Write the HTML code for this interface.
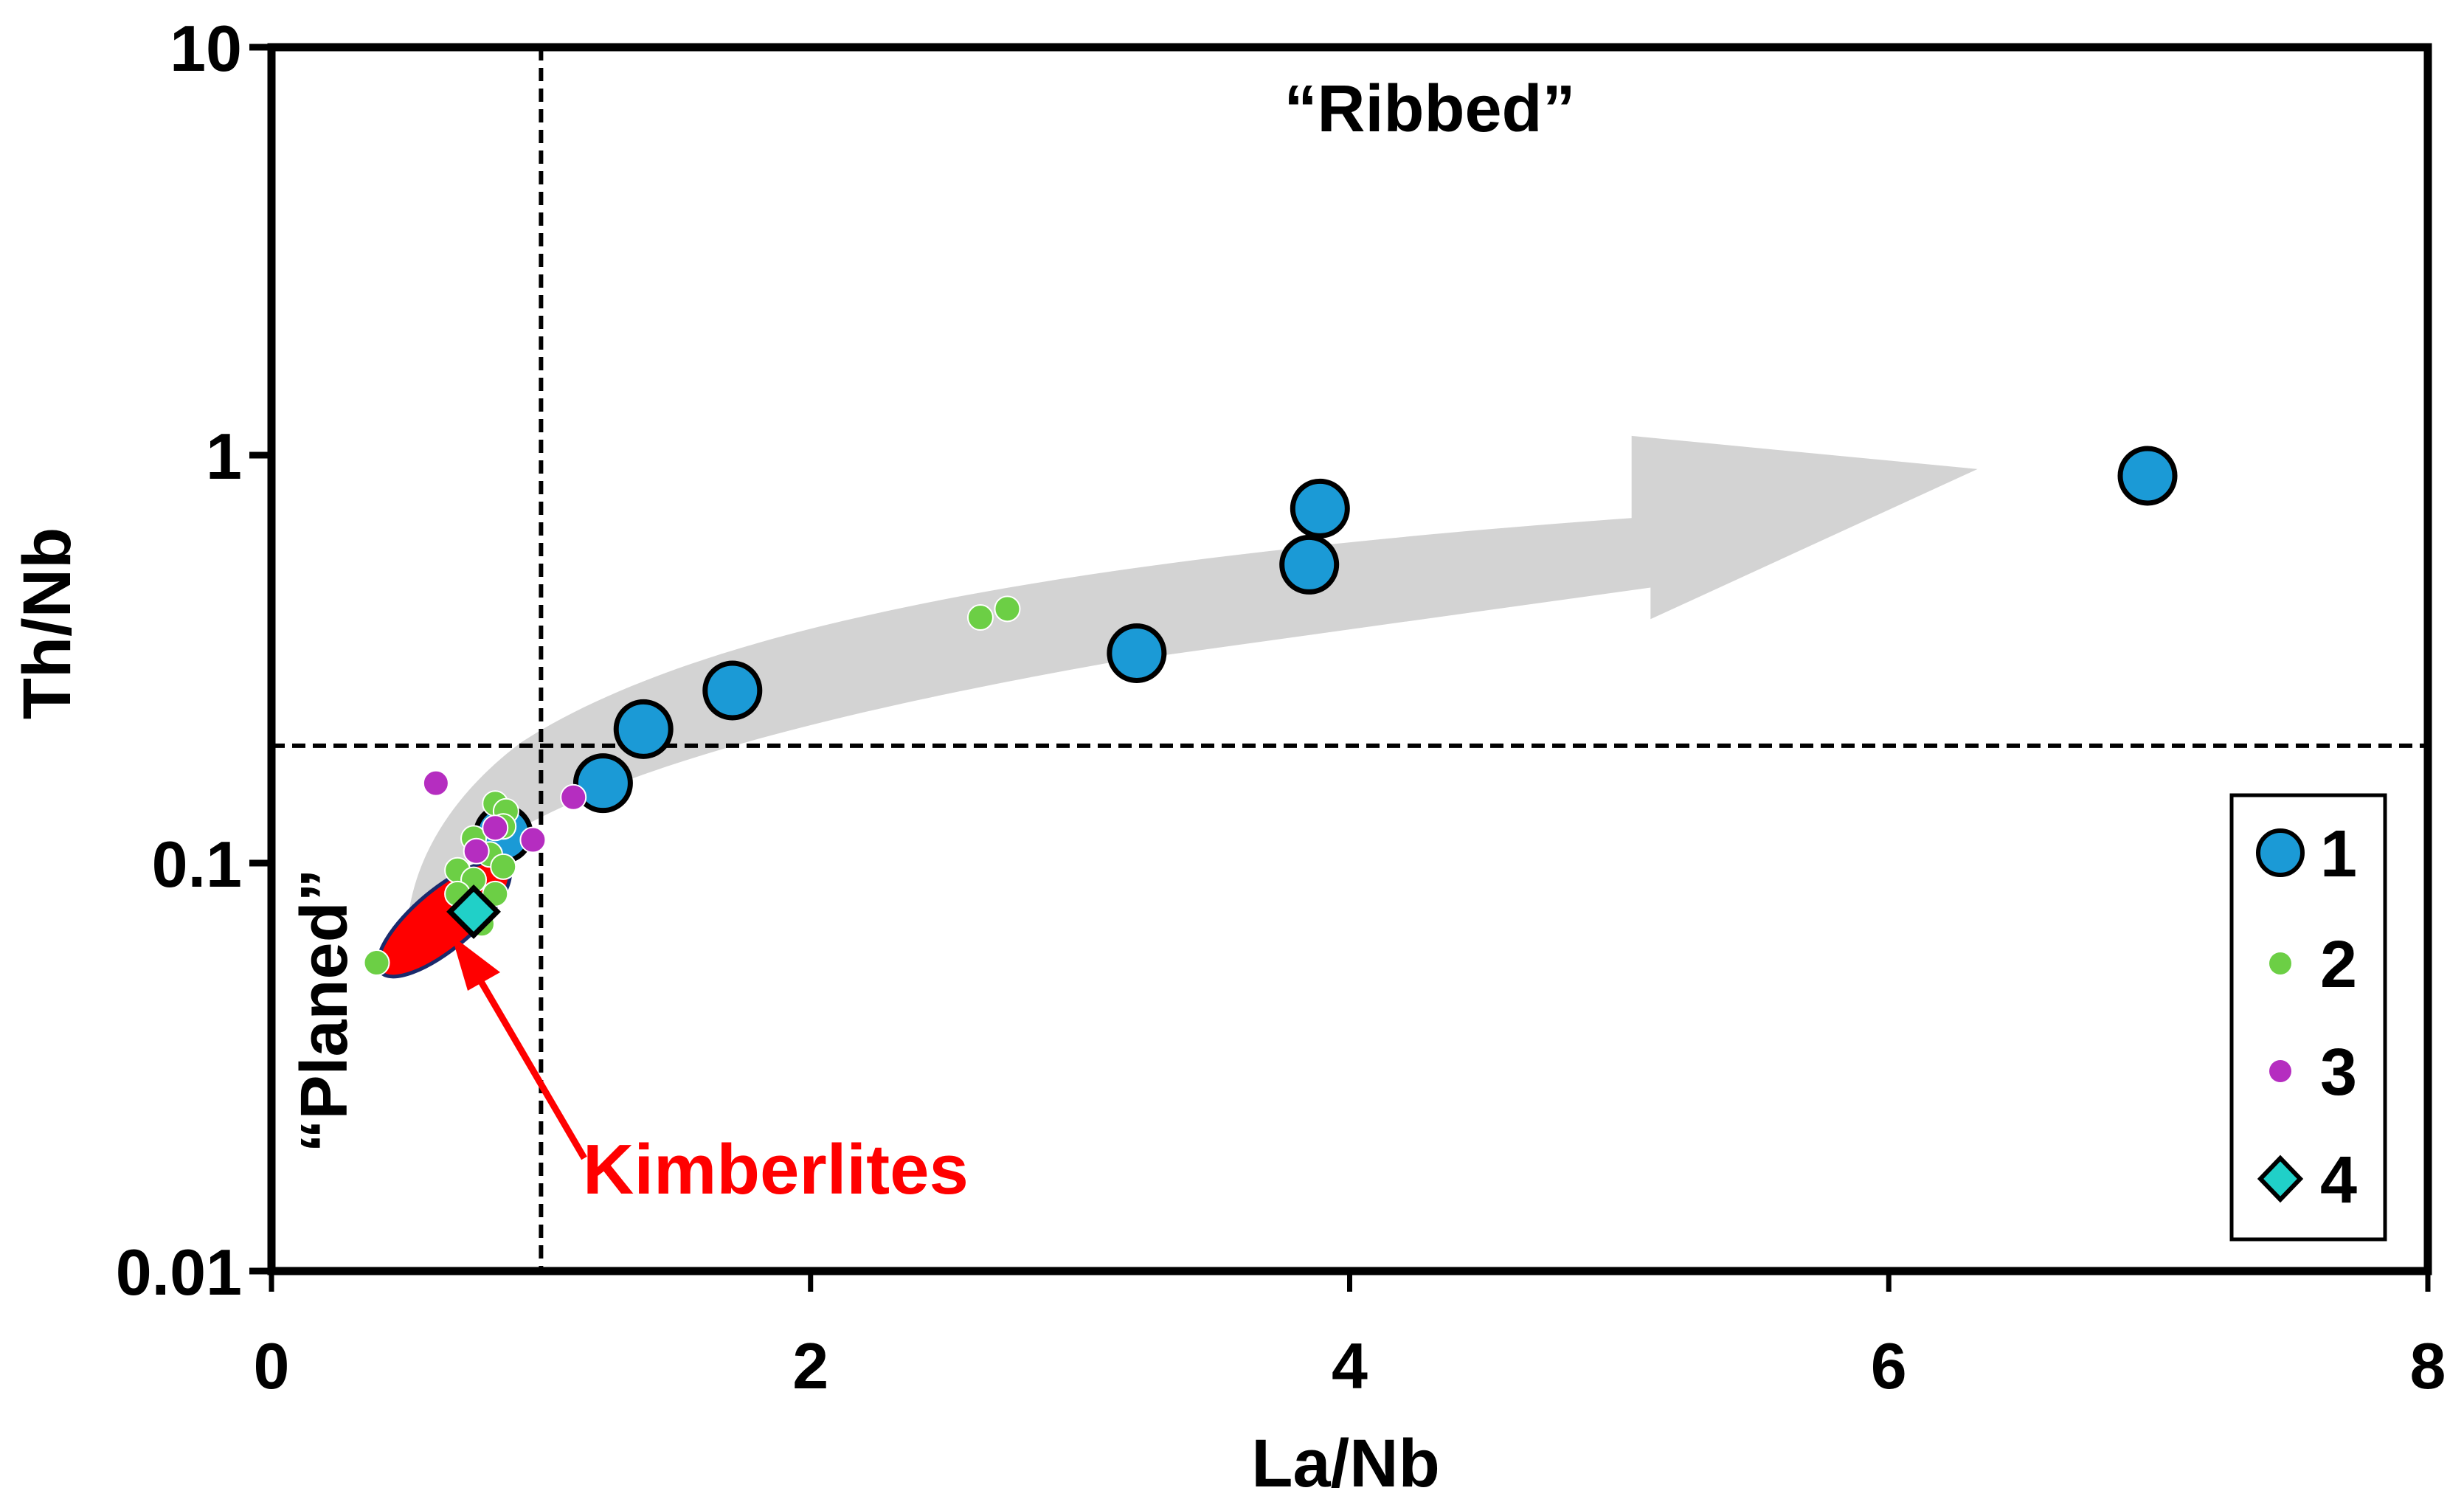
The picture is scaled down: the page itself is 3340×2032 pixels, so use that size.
<!DOCTYPE html>
<html><head><meta charset="utf-8"><style>
html,body{margin:0;padding:0;background:#fff;}
svg{display:block;font-family:"Liberation Sans",Arial,sans-serif;font-weight:bold;}
</style></head><body>
<svg id="chart" width="3340" height="2032" viewBox="0 0 3340 2032" xmlns="http://www.w3.org/2000/svg">
<g id="under">
  <g transform="scale(2.141)">
    <path fill="#d3d3d3" d="M258,585 C300,520 420,470 700,420 L1045,372 L1045,392 L1252,297 L1033,276 L1033,328 C700,352 450,392 330,470 C290,500 262,540 258,585 Z"/>
  </g>
</g>
<g id="marks"></g>
<g id="axes"></g>
</svg>
<script>
const xTicks=[0,2,4,6,8];
const xTickLabels=["0","2","4","6","8"];
const yTicks=[0.01,0.1,1,10];
const yTickLabels=["0.01","0.1","1","10"];
const s1x=[0.86,1.23,1.38,1.71,3.21,3.85,3.89,6.96];
const s1y=[0.118,0.157,0.213,0.265,0.327,0.539,0.74,0.89];
const s2x=[0.39,2.63,2.73,0.83,0.87,0.86,0.75,0.81,0.69,0.86,0.75,0.69,0.83,0.75,0.78];
const s2y=[0.057,0.40,0.42,0.140,0.134,0.123,0.115,0.105,0.096,0.098,0.091,0.084,0.084,0.077,0.071];
const s3x=[0.61,1.12,0.83,0.97,0.76];
const s3y=[0.157,0.145,0.122,0.114,0.107];
const s4x=[0.75];
const s4y=[0.076];
const vLineX=1, hLineY=0.194;

const L=368,R=3291,T=64,B=1723;
const X=v=>L+(v-0)/(8-0)*(R-L);
const Y=v=>B-(Math.log10(v)-(-2))/3*(B-T);
const NS="http://www.w3.org/2000/svg";
function mk(tag,attrs,parent,text){const e=document.createElementNS(NS,tag);for(const k in attrs)e.setAttribute(k,attrs[k]);if(text!==undefined)e.textContent=text;parent.appendChild(e);return e;}
const marks=document.getElementById('marks'),axes=document.getElementById('axes'),under=document.getElementById('under');

let el=mk('ellipse',{cx:X(0.64),cy:Y(0.073),rx:112,ry:40,transform:`rotate(-40 ${X(0.64)} ${Y(0.073)})`,fill:'#ff0000',stroke:'#1a2a6c','stroke-width':5},under);



let d1=mk('line',{x1:X(vLineX),x2:X(vLineX),y1:T,y2:B,stroke:'#000','stroke-width':6,'stroke-dasharray':'18,10'},under);


let d2=mk('line',{x1:L,x2:R,y1:Y(hLineY),y2:Y(hLineY),stroke:'#000','stroke-width':6,'stroke-dasharray':'18,10'},under);



for(let i=0;i<s1x.length;i++){
  const c=mk('circle',{cx:X(s1x[i]),cy:Y(s1y[i]),r:37,fill:'#1b9ad6',stroke:'#000','stroke-width':7},marks);
  
  
}
for(let i=0;i<s2x.length;i++){
  const c=mk('circle',{cx:X(s2x[i]),cy:Y(s2y[i]),r:17,fill:'#6ccf45',stroke:'#fff','stroke-width':2},marks);
  
  
}
for(let i=0;i<s3x.length;i++){
  const c=mk('circle',{cx:X(s3x[i]),cy:Y(s3y[i]),r:17,fill:'#b52dc0',stroke:'#fff','stroke-width':2},marks);
  
  
}
for(let i=0;i<s4x.length;i++){
  const cx=X(s4x[i]),cy=Y(s4y[i]);
  const c=mk('polygon',{points:`${cx},${cy-32} ${cx+32},${cy} ${cx},${cy+32} ${cx-32},${cy}`,fill:'#20d0c8',stroke:'#000','stroke-width':7},marks);
  
  
}

let ra=mk('line',{x1:792,y1:1570,x2:640,y2:1310,stroke:'#ff0000','stroke-width':9},marks);


let rh=mk('polygon',{points:'612,1268 678,1318 634,1343',fill:'#ff0000'},marks);



let fr=mk('rect',{x:L,y:T,width:R-L,height:B-T,fill:'none',stroke:'#000','stroke-width':11},axes);


xTicks.forEach((v,i)=>{
  let t=mk('line',{x1:X(v),x2:X(v),y1:B,y2:B+28,stroke:'#000','stroke-width':7},axes);
  
  
  let l=mk('text',{x:X(v),y:1882,'text-anchor':'middle','font-size':88},axes,xTickLabels[i]);
  
  
});
yTicks.forEach((v,i)=>{
  let t=mk('line',{x1:L-30,x2:L,y1:Y(v),y2:Y(v),stroke:'#000','stroke-width':9},axes);
  
  
  let l=mk('text',{x:L-40,y:Y(v)+32,'text-anchor':'end','font-size':88},axes,yTickLabels[i]);
  
  
});
</script>
<svg style="position:absolute;left:0;top:0" width="3340" height="2032">
<g font-family="Liberation Sans, Arial, sans-serif" font-weight="bold">
<text x="1824" y="2015" text-anchor="middle" font-size="92">La/Nb</text>
<text transform="translate(95 845) rotate(-90)" text-anchor="middle" font-size="92">Th/Nb</text>
<text x="1938" y="178" text-anchor="middle" font-size="90">“Ribbed”</text>
<text transform="translate(470 1370) rotate(-90)" text-anchor="middle" font-size="90">“Planed”</text>
<text x="790" y="1618" font-size="96" fill="#ff0000">Kimberlites</text>
<g>
<rect x="3025" y="1078" width="208" height="602" fill="#fff" stroke="#000" stroke-width="5"/>
<circle cx="3091" cy="1156" r="30" fill="#1b9ad6" stroke="#000" stroke-width="6"/>
<text x="3145" y="1188" font-size="90">1</text>
<circle cx="3091" cy="1306" r="15" fill="#6ccf45"/>
<text x="3145" y="1338" font-size="90">2</text>
<circle cx="3091" cy="1452" r="15" fill="#b52dc0"/>
<text x="3145" y="1484" font-size="90">3</text>
<polygon points="3091,1570 3118,1598 3091,1626 3064,1598" fill="#20d0c8" stroke="#000" stroke-width="6"/>
<text x="3145" y="1630" font-size="90">4</text>
</g>
</g>
</svg>
</body></html>
